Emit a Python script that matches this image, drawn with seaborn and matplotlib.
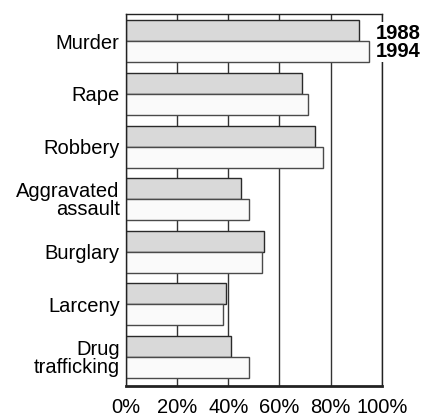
import pandas as pd
import matplotlib
matplotlib.use("Agg")
import matplotlib.pyplot as plt
import seaborn as sns

# Data (percent)
crimes = ["Murder", "Rape", "Robbery", "Aggravated\nassault", "Burglary",
          "Larceny", "Drug\ntrafficking"]
pct_1988 = [91, 69, 74, 45, 54, 39, 41]
pct_1994 = [95, 71, 77, 48, 53, 38, 48]
years = ["1988", "1994"]
x_ticks = [0, 20, 40, 60, 80, 100]
x_tick_labels = ["0%", "20%", "40%", "60%", "80%", "100%"]

df = pd.DataFrame({
    "crime": crimes * 2,
    "year": [years[0]] * len(crimes) + [years[1]] * len(crimes),
    "pct": pct_1988 + pct_1994,
})

sns.set_theme(style="white")
plt.rcParams["font.family"] = ["Liberation Sans", "DejaVu Sans"]

fig = plt.figure(figsize=(4.21, 4.18), dpi=100)
ax = fig.add_axes([0.299, 0.0766, 0.608, 0.8899])

sns.barplot(data=df, y="crime", x="pct", hue="year", orient="h",
            palette=["#d9d9d9", "#fafafa"], saturation=1, width=0.8,
            legend=False, ax=ax)

edge_cols = ["#2a2a2a", "#4a4a4a"]
for cont, ec in zip(ax.containers, edge_cols):
    for bar in cont:
        bar.set_edgecolor(ec)
        bar.set_linewidth(1.0)

ax.set_xlim(0, 100)
ax.set_ylim(6.55, -0.52)
ax.set_xticks(x_ticks)
ax.set_xticklabels(x_tick_labels)
ax.set_xlabel("")
ax.set_ylabel("")
ax.tick_params(axis="x", length=0, pad=9, labelsize=14.5, colors="black")
ax.tick_params(axis="y", length=0, pad=4.5, labelsize=14.5, colors="black")
for lab in ax.get_yticklabels():
    lab.set_horizontalalignment("right")
    lab.set_linespacing(0.9)

ax.set_axisbelow(True)
ax.xaxis.grid(True, color="#333333", linewidth=1.0)
ax.yaxis.grid(False)

for side in ["left", "top", "right"]:
    ax.spines[side].set_visible(True)
    ax.spines[side].set_color("#222222")
    ax.spines[side].set_linewidth(1.0)
ax.spines["bottom"].set_color("#222222")
ax.spines["bottom"].set_linewidth(2.0)

ax.text(0.975, 0.924, "1988\n1994", transform=ax.transAxes, ha="left",
        va="center", fontsize=14.5, fontweight="bold", linespacing=0.95,
        color="black", clip_on=False, zorder=5,
        bbox=dict(facecolor="white", edgecolor="none", pad=1))

fig.savefig("out.png", dpi=100)
